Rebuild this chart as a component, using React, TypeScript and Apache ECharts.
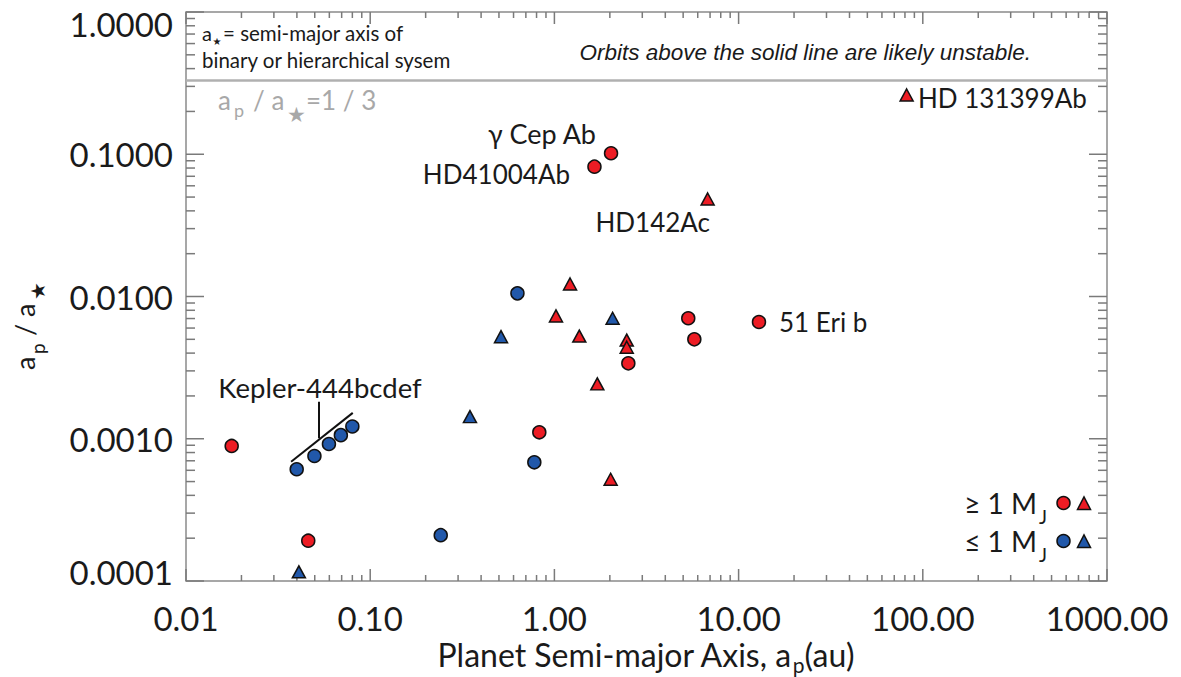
import React, { useEffect, useRef } from "react";
import * as echarts from "echarts";

const FONT = "Lato, 'DejaVu Sans', sans-serif";
const ITALIC_FONT = "'Liberation Sans', Arial, sans-serif";
const RED = "#ED1C24";
const BLUE = "#2158AA";
const EDGE = "#111111";
const FRAME = "#8a8a8a";
const TICK = "#7a7a7a";
const GRAYTXT = "#a8a8a8";
const INK = "#1a1a1a";

const X_MIN = 0.01;
const X_MAX = 1000;
const Y_MIN = 0.0001;
const Y_MAX = 1;
const xMajorTicks = [0.01, 0.1, 1, 10, 100, 1000];
const yMajorTicks = [0.0001, 0.001, 0.01, 0.1, 1];
const minorSteps = [2, 3, 4, 5, 6, 7, 8, 9];
const stabilityRatio = 1 / 3;

// >= 1 MJ, circles
const redCircleX = [0.0177, 0.0461, 0.828, 1.65, 2.03, 2.52, 5.33, 5.75, 12.9];
const redCircleY = [0.00089, 0.000192, 0.00111, 0.0818, 0.1016, 0.00339, 0.00703, 0.005, 0.00662];
// >= 1 MJ, triangles
const redTriX = [1.02, 1.216, 1.365, 1.71, 2.02, 2.47, 2.47, 6.79, 81.7];
const redTriY = [0.0073, 0.01225, 0.00527, 0.00243, 0.000519, 0.00494, 0.0044, 0.0485, 0.261];
// <= 1 MJ, circles
const blueCircleX = [0.0399, 0.0498, 0.0597, 0.0693, 0.08, 0.2415, 0.63, 0.778];
const blueCircleY = [0.00061, 0.000756, 0.000918, 0.00106, 0.00122, 0.00021, 0.01052, 0.000683];
// <= 1 MJ, triangles
const blueTriX = [0.041, 0.348, 0.513, 2.07];
const blueTriY = [0.000116, 0.00143, 0.00522, 0.00703];

// Kepler-444 bracket annotation (data space)
const keplerLineX = [0.0372, 0.0804];
const keplerLineY = [0.00069, 0.00152];
const keplerStemX = [0.0527, 0.0527];
const keplerStemY = [0.00101, 0.00182];

const zip = (xs: number[], ys: number[]) => xs.map((x, i) => [x, ys[i]]);

const measure = (text: string, size: number, family = FONT, style = "") => {
  const ctx = document.createElement("canvas").getContext("2d")!;
  ctx.font = `${style} ${size}px ${family}`;
  return ctx.measureText(text).width;
};

const txt = (x: number, y: number, text: string, size: number, extra: any = {}) => ({
  type: "text",
  x,
  y,
  silent: true,
  z: 20,
  style: {
    text,
    fontSize: size,
    fontFamily: FONT,
    fill: INK,
    align: "left",
    verticalAlign: "middle",
    ...extra,
  },
});

function buildTicks(majors: number[]) {
  const out: number[][] = [];
  majors.forEach((m, i) => {
    out.push([m, 1]);
    if (i < majors.length - 1) minorSteps.forEach((s) => out.push([m * s, 0]));
  });
  return out;
}

function buildOption() {
  const xTicks = buildTicks(xMajorTicks).map(([v, f]) => [v, Y_MIN, f]);
  const yTicks = buildTicks(yMajorTicks).map(([v, f]) => [X_MIN, v, f]);

  const labelStyle = { fontSize: 33, fontFamily: FONT, color: INK };

  // x title pieces
  const XT = 32;
  const XS = 21;
  const xt1 = "Planet Semi-major Axis, a";
  const xt3 = "(au)";
  const w1 = measure(xt1, XT);
  const ws = measure("p", XS);
  const w3 = measure(xt3, XT);
  const xStart = 646 - (w1 + ws + w3) / 2;

  // legend
  const legW = measure("≥ 1 M", 28);
  const noteA = measure("a", 20);

  const graphic: any[] = [
    // top-left note
    txt(202, 33, "a", 20),
    txt(202 + noteA + 0.5, 41, "★", 10),
    txt(223, 33, "= semi-major axis of", 20.5),
    txt(202, 60, "binary or hierarchical sysem", 20.5),
    // italic note
    txt(1031, 52, "Orbits above the solid line are likely unstable.", 22.5, {
      align: "right",
      fontStyle: "italic",
      fontFamily: ITALIC_FONT,
    }),
    // gray ratio label
    txt(218, 100, "a", 26, { fill: GRAYTXT }),
    txt(234, 110, "p", 18, { fill: GRAYTXT }),
    txt(253, 100, "/ a", 26, { fill: GRAYTXT }),
    txt(287, 113, "★", 21, { fill: GRAYTXT }),
    txt(306, 100, "=1 / 3", 26, { fill: GRAYTXT }),
    // point labels
    txt(596, 133, "γ Cep Ab", 27, { align: "right" }),
    txt(570, 174, "HD41004Ab", 26, { align: "right" }),
    txt(710, 222, "HD142Ac", 26, { align: "right" }),
    txt(918, 98, "HD 131399Ab", 26),
    txt(779, 322, "51 Eri b", 26),
    txt(320, 387, "Kepler-444bcdef", 27.5, { align: "center" }),
    // x title
    txt(xStart, 654, xt1, XT),
    txt(xStart + w1, 664, "p", XS),
    txt(xStart + w1 + ws, 654, xt3, XT),
    // y title (rotated)
    {
      type: "group",
      x: 24,
      y: 370,
      rotation: Math.PI / 2,
      children: [
        txt(0, 0, "a", 27),
        txt(16, 13, "p", 19),
        txt(34, 0, "/ a", 27),
        txt(70, 13, "★", 20),
      ],
    },
    // legend
    txt(1037 - legW, 503, "≥ 1 M", 28),
    txt(1039, 516, "J", 19),
    txt(1037 - legW, 541, "≤ 1 M", 28),
    txt(1039, 554, "J", 19),
    {
      type: "circle",
      z: 20,
      shape: { cx: 1063.5, cy: 503, r: 6.5 },
      style: { fill: RED, stroke: EDGE, lineWidth: 1.5 },
    },
    {
      type: "polygon",
      z: 20,
      shape: { points: [[1077.5, 509.5], [1090.5, 509.5], [1084, 497]] },
      style: { fill: RED, stroke: EDGE, lineWidth: 1.5 },
    },
    {
      type: "circle",
      z: 20,
      shape: { cx: 1063.5, cy: 541, r: 6.5 },
      style: { fill: BLUE, stroke: EDGE, lineWidth: 1.5 },
    },
    {
      type: "polygon",
      z: 20,
      shape: { points: [[1077.5, 547.5], [1090.5, 547.5], [1084, 535]] },
      style: { fill: BLUE, stroke: EDGE, lineWidth: 1.5 },
    },
  ];

  const tickSeries = (data: number[][], isX: boolean) => ({
    type: "custom",
    coordinateSystem: "cartesian2d",
    silent: true,
    clip: false,
    z: 1,
    encode: { x: 0, y: 1 },
    data,
    renderItem: (_p: any, api: any) => {
      const major = api.value(2) === 1;
      const style = { stroke: TICK, lineWidth: 1.5 };
      if (isX) {
        const v = api.value(0);
        const b = api.coord([v, Y_MIN]);
        const t = api.coord([v, Y_MAX]);
        const len = major ? 12 : 6;
        return {
          type: "group",
          children: [
            { type: "line", shape: { x1: b[0], y1: b[1], x2: b[0], y2: b[1] - len }, style },
            { type: "line", shape: { x1: t[0], y1: t[1], x2: t[0], y2: t[1] + len }, style },
          ],
        };
      }
      const v = api.value(1);
      const l = api.coord([X_MIN, v]);
      const r = api.coord([X_MAX, v]);
      const len = major ? 18 : 9;
      return {
        type: "group",
        children: [
          { type: "line", shape: { x1: l[0], y1: l[1], x2: l[0] + len, y2: l[1] }, style },
          { type: "line", shape: { x1: r[0], y1: r[1], x2: r[0] - len, y2: r[1] }, style },
        ],
      };
    },
  });

  const scatter = (name: string, data: number[][], color: string, tri: boolean, extra: any = {}) => ({
    name,
    type: "scatter",
    data,
    symbol: tri ? "triangle" : "circle",
    symbolSize: tri ? [13, 12] : 13,
    itemStyle: { color, borderColor: EDGE, borderWidth: 1.5, opacity: 1 },
    z: 5,
    ...extra,
  });

  return {
    animation: false,
    backgroundColor: "#ffffff",
    grid: {
      left: 186,
      top: 12,
      right: 74,
      bottom: 96,
      show: true,
      borderColor: FRAME,
      borderWidth: 1.5,
      containLabel: false,
      outerBoundsMode: "none",
    },
    xAxis: {
      type: "log",
      logBase: 10,
      min: X_MIN,
      max: X_MAX,
      interval: 1,
      axisLine: { show: false },
      axisTick: { show: false },
      splitLine: { show: false },
      axisLabel: {
        ...labelStyle,
        margin: 20,
        formatter: (v: number) => v.toFixed(2),
      },
    },
    yAxis: {
      type: "log",
      logBase: 10,
      min: Y_MIN,
      max: Y_MAX,
      interval: 1,
      axisLine: { show: false },
      axisTick: { show: false },
      splitLine: { show: false },
      axisLabel: {
        ...labelStyle,
        margin: 13,
        formatter: (v: number) => {
          const s = v.toFixed(4);
          const e = Math.round(Math.log10(v));
          if (e === 0) return `{top|${s}}`;
          if (e === -4) return `{bot|${s}}`;
          return s;
        },
        rich: {
          top: { ...labelStyle, padding: [24, 0, 0, 0] },
          bot: { ...labelStyle, padding: [0, 0, 18, 0] },
        },
      },
    },
    graphic,
    series: [
      tickSeries(xTicks, true),
      tickSeries(yTicks, false),
      scatter("≥1 MJ circles", zip(redCircleX, redCircleY), RED, false, {
        markLine: {
          silent: true,
          animation: false,
          symbol: ["none", "none"],
          label: { show: false },
          lineStyle: { color: "#b0b0b0", width: 2.5, type: "solid" },
          data: [{ yAxis: stabilityRatio }],
        },
      }),
      scatter("≥1 MJ triangles", zip(redTriX, redTriY), RED, true),
      scatter("≤1 MJ circles", zip(blueCircleX, blueCircleY), BLUE, false, {
        markLine: {
          silent: true,
          animation: false,
          symbol: ["none", "none"],
          label: { show: false },
          lineStyle: { color: "#111", width: 2, type: "solid" },
          data: [
            [{ coord: [keplerLineX[0], keplerLineY[0]] }, { coord: [keplerLineX[1], keplerLineY[1]] }],
            [{ coord: [keplerStemX[0], keplerStemY[0]] }, { coord: [keplerStemX[1], keplerStemY[1]] }],
          ],
        },
      }),
      scatter("≤1 MJ triangles", zip(blueTriX, blueTriY), BLUE, true),
    ],
  };
}

export default function App() {
  const ref = useRef<HTMLDivElement>(null);
  useEffect(() => {
    const chart = echarts.init(ref.current!, null, { renderer: "svg" });
    chart.setOption(buildOption() as any);
    return () => chart.dispose();
  }, []);
  return (
    <div
      ref={ref}
      style={{ position: "absolute", left: 0, top: 0, width: 1181, height: 677, background: "#fff" }}
    />
  );
}
